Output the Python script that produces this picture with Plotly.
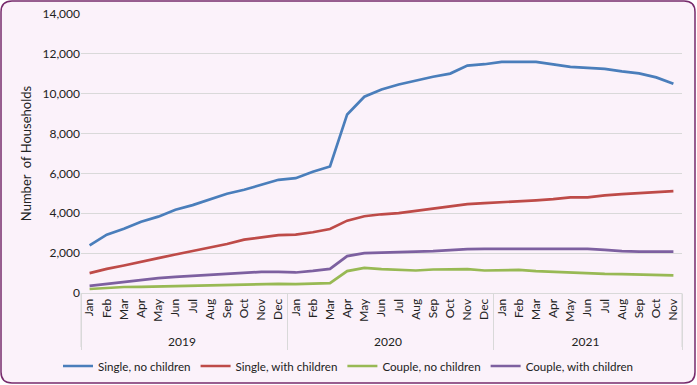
import plotly.graph_objects as go

months = ["Jan","Feb","Mar","Apr","May","Jun","Jul","Aug","Sep","Oct","Nov","Dec"]
years = ["2019"] * 12 + ["2020"] * 12 + ["2021"] * 11
month_labels = months + months + months[:11]

single_no_children = [2390, 2930, 3220, 3580, 3830, 4180, 4410, 4680, 4980, 5180, 5440, 5680,
                      5760, 6080, 6350, 8960, 9850, 10210, 10460, 10660, 10850, 11010, 11410, 11480,
                      11600, 11600, 11600, 11470, 11350, 11300, 11250, 11120, 11020, 10820, 10500]
single_with_children = [1000, 1210, 1380, 1580, 1750, 1930, 2100, 2260, 2460, 2680, 2800, 2900,
                        2930, 3050, 3210, 3630, 3850, 3950, 4010, 4110, 4230, 4350, 4460, 4510,
                        4550, 4600, 4650, 4710, 4800, 4800, 4900, 4960, 5010, 5030, 5110]
couple_no_children = [200, 260, 300, 310, 330, 360, 360, 380, 410, 430, 460, 460,
                      450, 460, 500, 1100, 1260, 1200, 1180, 1130, 1180, 1200, 1200, 1130,
                      1150, 1160, 1100, 1060, 1030, 980, 960, 950, 920, 900, 880]
couple_with_children = [360, 460, 550, 630, 750, 810, 860, 910, 960, 1010, 1060, 1060,
                        1030, 1110, 1210, 1850, 2000, 2030, 2050, 2080, 2100, 2150, 2200, 2210,
                        2210, 2210, 2210, 2210, 2210, 2210, 2160, 2100, 2080, 2080, 2080]

series = [
    ("Single, no children", single_no_children, "#4A7EBB"),
    ("Single, with children", single_with_children, "#BE4B48"),
    ("Couple, no children", couple_no_children, "#98B954"),
    ("Couple, with children", couple_with_children, "#7D60A0"),
]

FONT = "Lato, 'Open Sans', sans-serif"

fig = go.Figure()
for name, vals, color in series:
    fig.add_trace(go.Scatter(
        x=[years, month_labels], y=vals, name=name, mode="lines",
        line=dict(color=color, width=2.7), hoverinfo="skip"))

W, H = 697, 385
L, R, T, B = 81, 15, 14, 92
pw, ph = W - L - R, H - T - B

def px(x):
    return (x - L) / pw

def py(y):
    return (H - B - y) / ph

x0, x1, y0, y1, r = 1, 695, 1, 383, 11
path = (f"M {px(x0 + r)},{py(y0)} L {px(x1 - r)},{py(y0)} "
        f"Q {px(x1)},{py(y0)} {px(x1)},{py(y0 + r)} "
        f"L {px(x1)},{py(y1 - r)} Q {px(x1)},{py(y1)} {px(x1 - r)},{py(y1)} "
        f"L {px(x0 + r)},{py(y1)} Q {px(x0)},{py(y1)} {px(x0)},{py(y1 - r)} "
        f"L {px(x0)},{py(y0 + r)} Q {px(x0)},{py(y0)} {px(x0 + r)},{py(y0)} Z")

fig.add_shape(type="path", path=path, xref="paper", yref="paper",
              line=dict(color="#772B6C", width=1.5), fillcolor="#FBF2FA", layer="below")
for xe in (0, 1):
    fig.add_shape(type="line", xref="paper", yref="paper", x0=xe, x1=xe, y0=0, y1=py(347),
                  line=dict(color="#D9D9D9", width=1))

fig.update_layout(
    width=W, height=H,
    margin=dict(l=L, r=R, t=T, b=B, autoexpand=False),
    paper_bgcolor="white",
    plot_bgcolor="rgba(0,0,0,0)",
    font=dict(family=FONT, size=12, color="#222222"),
    showlegend=True,
    legend=dict(orientation="h", x=px(58), xanchor="left", y=py(366), yanchor="middle",
                font=dict(size=11.6, family=FONT), entrywidth=0,
                itemwidth=30, bgcolor="rgba(0,0,0,0)"),
    xaxis=dict(
        type="multicategory", tickangle=-90, range=[-0.5, len(month_labels) - 0.5],
        showdividers=True, dividercolor="#D9D9D9", dividerwidth=1,
        showline=True, linecolor="#D9D9D9", linewidth=1,
        showgrid=False, ticks="", tickfont=dict(size=12, family=FONT),
    ),
    yaxis=dict(
        range=[0, 14000], dtick=2000, tickformat=",",
        showgrid=True, gridcolor="#D9D9D9", gridwidth=1,
        zeroline=False, showline=False, ticks="",
        tickfont=dict(size=12, family=FONT),
        title=dict(text="Number&nbsp;&nbsp;of Households", font=dict(size=13, family=FONT), standoff=7),
    ),
)

fig.write_html("out.html", config={"displayModeBar": False, "staticPlot": True},
               post_script="document.body.style.margin='0';document.body.style.overflow='hidden';")
